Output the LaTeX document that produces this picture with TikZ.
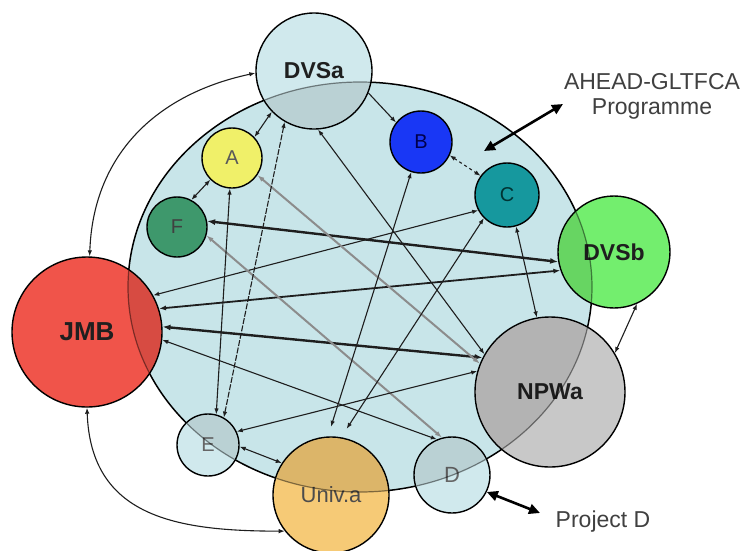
\documentclass[tikz,border=0pt]{standalone}
\usepackage{fontspec}
\setmainfont{Liberation Sans}
\usetikzlibrary{arrows.meta}
\definecolor{bgblue}{RGB}{200,229,233}
\definecolor{nodeblue}{RGB}{208,233,237}
\definecolor{cyel}{RGB}{240,240,105}
\definecolor{cgreenF}{RGB}{62,152,108}
\definecolor{cblue}{RGB}{25,55,245}
\definecolor{cteal}{RGB}{22,152,158}
\definecolor{clgreen}{RGB}{115,238,110}
\definecolor{cgrey}{RGB}{200,200,200}
\definecolor{corange}{RGB}{246,202,118}
\definecolor{cred}{RGB}{240,84,74}
\definecolor{lnk}{RGB}{30,30,30}
\definecolor{txtgrey}{RGB}{64,64,64}
\tikzset{
  ent/.style={circle, draw=black, line width=1.4pt, inner sep=0pt, text=black!88},
  bigfont/.style={font=\bfseries\fontsize{23}{25}\selectfont},
  smallfont/.style={font=\fontsize{20}{22}\selectfont},
  tip/.tip={Latex[length=6pt,width=4.5pt]},
  con/.style={draw=lnk, line width=1.1pt, tip-tip},
  thickcon/.style={draw=lnk, line width=2.4pt, {Latex[length=8pt,width=6pt]}-{Latex[length=8pt,width=6pt]}},
  midcon/.style={draw=lnk, line width=1.8pt, {Latex[length=7pt,width=5pt]}-{Latex[length=7pt,width=5pt]}},
  greycon/.style={draw=black!45, line width=2pt, {Latex[length=7pt,width=5pt]}-{Latex[length=7pt,width=5pt]}},
  bigarrow/.style={draw=black, line width=2.6pt, {Triangle[length=11pt,width=10pt]}-{Triangle[length=11pt,width=10pt]}},
  lbl/.style={text=txtgrey, font=\fontsize{23}{25}\selectfont, inner sep=0pt}
}
\begin{document}
\begin{tikzpicture}[x=1pt,y=1pt]
\useasboundingbox (0,0) rectangle (745,-550);
\fill[white] (0,0) rectangle (745,-550);
% big programme ellipse
\path[fill=bgblue, draw=black, line width=1.5pt] (360,-287) ellipse [x radius=232, y radius=205];

% entities
\node[ent, fill=nodeblue, minimum size=116pt, bigfont] (DVSa) at (314,-71) {DVSa};
\node[ent, fill=cyel, minimum size=60pt, smallfont, text=black!65] (A) at (232,-158) {A};
\node[ent, fill=cgreenF, minimum size=60pt, smallfont, text=black!75] (F) at (177,-227) {F};
\node[ent, fill=cred, minimum size=150pt, font=\bfseries\fontsize{26}{28}\selectfont] (JMB) at (87,-332) {JMB};
\node[ent, fill=nodeblue, minimum size=62pt, smallfont, text=black!60] (E) at (208,-445) {E};
\node[ent, fill=corange, minimum size=116pt, font=\fontsize{22}{24}\selectfont, text=black!70] (Univa) at (331,-495) {Univ.a};
\node[ent, fill=cblue, minimum size=62pt, smallfont, text=blue!30!black] (B) at (421,-142) {B};
\node[ent, fill=cteal, minimum size=64pt, smallfont, text=teal!40!black] (C) at (507,-195) {C};
\node[ent, fill=clgreen, minimum size=112pt, bigfont] (DVSb) at (614,-252) {DVSb};
\node[ent, fill=cgrey, minimum size=150pt, bigfont] (NPWa) at (550,-392) {NPWa};
\node[ent, fill=nodeblue, minimum size=76pt, font=\fontsize{22}{24}\selectfont, text=black!60] (D) at (452,-475) {D};

% the programme boundary seen through the overlapping entities
\foreach \n/\r in {DVSa/57, JMB/74, DVSb/55, NPWa/74, Univa/57, D/37, E/30} {
  \begin{scope}
    \clip (\n.center) circle [radius=\r];
    \fill[black, opacity=0.10] (360,-287) ellipse [x radius=232, y radius=205];
    \draw[black, opacity=0.45, line width=1.2pt] (360,-287) ellipse [x radius=232, y radius=205];
  \end{scope}
}

% outer curved links
\draw[con] (JMB.88) to[out=88, in=192, looseness=1.05] (DVSa.182);
\draw[con] (JMB.270) to[out=-88, in=180, looseness=1.2] (Univa.218);

% short links
\draw[con] (A.43) -- (DVSa.224);
\draw[con] (A.225) -- (F.62);
\draw[draw=lnk, line width=1.1pt, -tip] (DVSa.338) -- (B.142);
\draw[con, dashed] (B.335) -- (C.144);
\draw[con] (DVSb.294) -- (NPWa.31);
\draw[con] (E.-3) -- (Univa.147);

% long links
\draw[thickcon] (F.11) -- (DVSb.190);
\draw[midcon] (JMB.18) -- (DVSb.199);
\draw[thickcon] (JMB.4) -- (NPWa.153);
\draw[con] (JMB.29) -- (C.208);
\draw[con] (JMB.354) -- (D.113);
\draw[greycon] (F.344) -- (D.105);
\draw[greycon] (A.326) -- (NPWa.158);
\draw[con] (DVSa.274) -- (NPWa.150);
\draw[con, dash pattern=on 6pt off 1.5pt] (DVSa.240) -- (E.60);
\draw[con] (A.266) -- (E.75);
\draw[con] (NPWa.164) -- (E.25);
\draw[con, shorten >=10pt] (B.252) -- (Univa.93);
\draw[con, shorten >=10pt] (C.225) -- (Univa.80);
\draw[con] (C.286) -- (NPWa.100);

% external programme and project
\node[lbl] (ahead) at (652,-82) {AHEAD-GLTFCA};
\node[lbl] (prog) at (652,-109) {Programme};
\coordinate (ahA) at (563,-104);
\coordinate (ahB) at (484,-151);
\draw[bigarrow] (ahA) -- (ahB);
\node[lbl] (projd) at (603,-522) {Project D};
\coordinate (pdA) at (540,-513);
\draw[bigarrow] (D.334) -- (pdA);
\end{tikzpicture}
\end{document}
